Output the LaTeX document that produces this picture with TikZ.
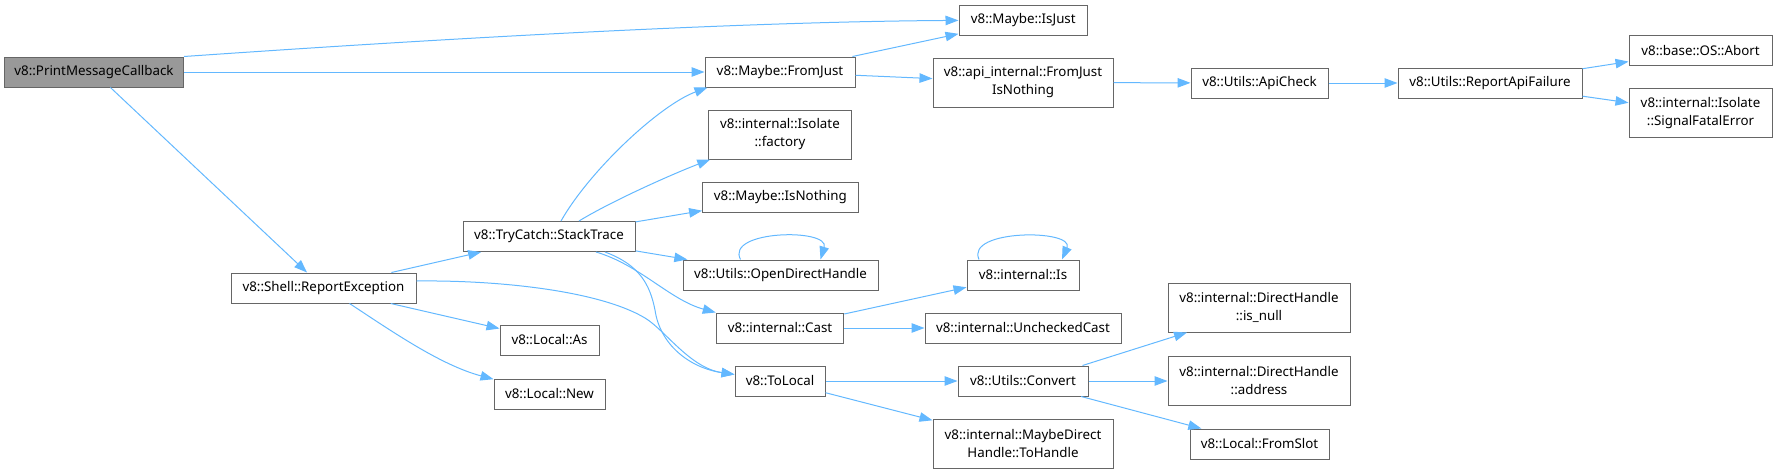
\documentclass[tikz,border=0pt]{standalone}
\usepackage{fontspec}
\setmainfont{Noto Sans}
\usetikzlibrary{arrows.meta}
\definecolor{edgeblue}{HTML}{63B8FF}
\definecolor{boxgray}{HTML}{666666}
\definecolor{rootgray}{HTML}{999999}
\tikzset{
  box/.style={rectangle,draw=boxgray,line width=1pt,fill=white,align=center,inner sep=0pt,minimum height=30pt,font=\fontsize{13.33}{18}\selectfont},
  tall/.style={minimum height=49pt},
  root/.style={box,fill=rootgray},
  line/.style={-{Triangle[length=13pt,width=9.5pt]},color=edgeblue,line width=1pt}
}

\begin{document}
\begin{tikzpicture}[x=1pt,y=-1pt]
\useasboundingbox (0,0) rectangle (1777,474);
\node[root, minimum width=179pt] (pmc) at (94,72) {v8::PrintMessageCallback};
\node[box, minimum width=185pt] (re) at (323.5,288) {v8::Shell::ReportException};
\node[box, minimum width=172pt] (st) at (549,236.5) {v8::TryCatch::StackTrace};
\node[box, minimum width=99pt] (as) at (549.5,340) {v8::Local::As};
\node[box, minimum width=111pt] (new) at (549.5,394) {v8::Local::New};
\node[box, minimum width=150pt] (fromjust) at (780,72) {v8::Maybe::FromJust};
\node[box, tall, minimum width=142.5pt] (factory) at (780,134.5) {v8::internal::Isolate\\::factory};
\node[box, minimum width=155.4pt] (isnothing) at (780.3,197.5) {v8::Maybe::IsNothing};
\node[box, minimum width=195pt] (odh) at (780.5,275) {v8::Utils::OpenDirectHandle};
\node[box, minimum width=127.5pt] (cast) at (780,328) {v8::internal::Cast};
\node[box, minimum width=90pt] (tolocal) at (780,381) {v8::ToLocal};
\node[box, minimum width=128.6pt] (isjust) at (1023.3,20) {v8::Maybe::IsJust};
\node[box, tall, minimum width=180pt] (fjin) at (1023,82.5) {v8::api\_internal::FromJust\\IsNothing};
\node[box, minimum width=112pt] (is) at (1023,275) {v8::internal::Is};
\node[box, minimum width=196pt] (unchecked) at (1023,328) {v8::internal::UncheckedCast};
\node[box, minimum width=130pt] (convert) at (1023,381) {v8::Utils::Convert};
\node[box, tall, minimum width=180pt] (tohandle) at (1023,443.5) {v8::internal::MaybeDirect\\Handle::ToHandle};
\node[box, minimum width=137pt] (apicheck) at (1259.5,83) {v8::Utils::ApiCheck};
\node[box, tall, minimum width=182pt] (isnull) at (1259,307.5) {v8::internal::DirectHandle\\::is\_null};
\node[box, tall, minimum width=182pt] (address) at (1259,381) {v8::internal::DirectHandle\\::address};
\node[box, minimum width=139pt] (fromslot) at (1259.5,444) {v8::Local::FromSlot};
\node[box, minimum width=184pt] (raf) at (1490,83) {v8::Utils::ReportApiFailure};
\node[box, minimum width=143pt] (abort) at (1700.5,50.5) {v8::base::OS::Abort};
\node[box, tall, minimum width=143pt] (sfe) at (1700.5,113) {v8::internal::Isolate\\::SignalFatalError};
\draw[line] (pmc.north east) .. controls (350,45) and (700,22) .. (isjust);
\draw[line] (pmc) -- (fromjust);
\draw[line] (pmc) -- (re);
\draw[line] (re) -- (st);
\draw[line] ([yshift=7pt]re.east) .. controls (500,280) and (600,291) .. (645,318) .. controls (665,330) and (690,368) .. (tolocal);
\draw[line] (re) -- (as);
\draw[line] ([xshift=26pt]re.south) .. controls (390,330) and (440,365) .. (new);
\draw[line] ([xshift=12pt]st.north) .. controls (590,170) and (660,105) .. ([xshift=3pt]fromjust.south west);
\draw[line] ([xshift=30pt]st.north) .. controls (610,202) and (670,175) .. ([xshift=2pt]factory.south west);
\draw[line] (st) -- (isnothing);
\draw[line] (st) -- (odh);
\draw[line] ([xshift=47pt]st.south) .. controls (640,265) and (670,300) .. (cast.north west);
\draw[line] ([xshift=56pt]st.south) .. controls (640,265) and (650,285) .. (655,310) .. controls (660,345) and (690,368) .. (tolocal);
\draw[line] ([xshift=-40pt]odh.north) .. controls (725,230) and (830,228) .. ([xshift=40pt]odh.north);
\draw[line] (fromjust) -- (isjust);
\draw[line] (fromjust) -- (fjin);
\draw[line] (fjin) -- (apicheck);
\draw[line] (apicheck) -- (raf);
\draw[line] (raf) -- (abort);
\draw[line] (raf) -- (sfe);
\draw[line] (cast) -- (is);
\draw[line] (cast) -- (unchecked);
\draw[line] ([xshift=-44pt]is.north) .. controls (965,229) and (1075,229) .. ([xshift=39pt]is.north);
\draw[line] (tolocal) -- (convert);
\draw[line] (tolocal) -- (tohandle);
\draw[line] ([xshift=-6pt]convert.north east) -- ([xshift=-72pt]isnull.south);
\draw[line] (convert) -- (address);
\draw[line] (convert) -- (fromslot);
\end{tikzpicture}
\end{document}
